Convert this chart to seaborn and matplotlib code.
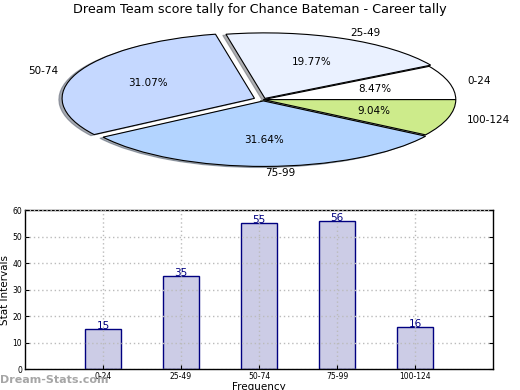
import matplotlib
matplotlib.use("Agg")
import matplotlib.pyplot as plt
import seaborn as sns
import pandas as pd

categories = ["0-24", "25-49", "50-74", "75-99", "100-124"]
values = [15, 35, 55, 56, 16]
pie_colors = ["#FFFFFF", "#EAF1FF", "#C5D8FF", "#B3D4FF", "#CDEB8B"]
explode = [0.0, 0.02, 0.05, 0.02, 0.0]
title = "Dream Team score tally for Chance Bateman - Career tally"

plt.rcParams['font.family'] = ['DejaVu Sans']

fig = plt.figure(figsize=(5.2, 3.9), dpi=100)

# Pie
ax1 = fig.add_axes([0.0440, 0.5346, 0.925, 0.420])
wedges, texts, autotexts = ax1.pie(
    values, labels=categories, colors=pie_colors, explode=explode,
    autopct="%.2f%%", shadow={"ox": -0.012, "oy": -0.012, "shade": 0.6},
    startangle=0, counterclock=True,
    wedgeprops=dict(edgecolor="black", linewidth=0.8),
    textprops=dict(fontsize=7.5))
ax1.set_aspect("auto")
ax1.set_xlim(-1.25, 1.25)
ax1.set_ylim(-1.25, 1.25)
fig.text(0.5, 0.975, title, ha="center", va="center", fontsize=9.2)

# Bars
ax2 = fig.add_axes([0.0481, 0.0538, 0.9, 0.4077])
df = pd.DataFrame({"Range": categories, "Count": values})
sns.barplot(data=df, x="Range", y="Count", color="#CCCCE6", saturation=1,
            edgecolor="#000080", linewidth=1.0, width=0.46, ax=ax2)
for c in ax2.containers:
    ax2.bar_label(c, color="#000080", fontsize=7.5, padding=-1.5)
ax2.set_xlim(-1, 5)
ax2.set_ylim(0, 60)
ax2.set_yticks(range(0, 61, 10))
ax2.grid(True, linestyle=(0, (1, 2)), color="#BBBBBB", linewidth=1.0)
ax2.set_axisbelow(False)
for b in ax2.patches:
    b.set_zorder(1)
ax2.tick_params(labelsize=5.5, direction="in", length=3, right=True, pad=2)
ax2.set_xlabel("Frequency", fontsize=7.5, labelpad=1)
ax2.set_ylabel("Stat Intervals", fontsize=7.5, labelpad=2)
for s in ax2.spines.values():
    s.set_linewidth(1.0)

fig.text(0.0, 0.026, "Dream-Stats.com", fontsize=8, color="#A6A6A6",
         fontweight="bold", ha="left", va="center", zorder=5)

fig.savefig("out.png", dpi=100)
